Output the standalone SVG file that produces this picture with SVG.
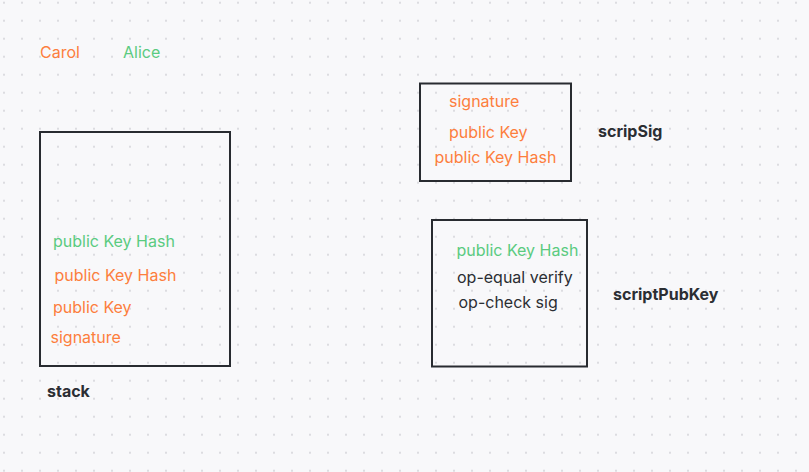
<svg xmlns="http://www.w3.org/2000/svg" width="809" height="472" viewBox="0 0 809 472">
  <defs>
    <pattern id="dots" patternUnits="userSpaceOnUse" x="0" y="0" width="18" height="18">
      <rect x="3" y="1.7" width="2" height="2" fill="#dcdce0"/>
    </pattern>
    <style>
      text { font-family: Inter, "Noto Sans", "Liberation Sans", sans-serif; font-size: 16px; }
      .or { fill: #fd7e3d; }
      .gr { fill: #5acb80; }
      .dk { fill: #2b2e33; }
      .lbl { fill: #2b2e33; font-weight: 700; }
      .box { fill: none; stroke: #282b30; stroke-width: 2; }
    </style>
  </defs>
  <rect width="809" height="472" fill="#f8f8fa"/>
  <rect width="809" height="472" fill="url(#dots)"/>

  <g id="legend">
    <text class="or" x="40" y="58">Carol</text>
    <text class="gr" x="123" y="58">Alice</text>
  </g>

  <g id="stack">
    <rect class="box" x="40" y="132" width="190" height="234"/>
    <text class="gr" x="53" y="246.5">public Key Hash</text>
    <text class="or" x="54.5" y="281">public Key Hash</text>
    <text class="or" x="53" y="312.5">public Key</text>
    <text class="or" x="50.5" y="343">signature</text>
    <text class="lbl" x="47" y="397">stack</text>
  </g>

  <g id="scripSig">
    <rect class="box" x="420" y="83.5" width="151" height="97.5"/>
    <text class="or" x="449" y="106.5">signature</text>
    <text class="or" x="449" y="137.5">public Key</text>
    <text class="or" x="434.5" y="162.5">public Key Hash</text>
    <text class="lbl" x="598" y="137">scripSig</text>
  </g>

  <g id="scriptPubKey">
    <rect class="box" x="432" y="220" width="155" height="146.5"/>
    <text class="gr" x="456.5" y="256">public Key Hash</text>
    <text class="dk" x="457" y="282.5">op-equal verify</text>
    <text class="dk" x="458.5" y="307.5">op-check sig</text>
    <text class="lbl" x="613" y="299.5">scriptPubKey</text>
  </g>

  <g id="connectors"/>
</svg>
